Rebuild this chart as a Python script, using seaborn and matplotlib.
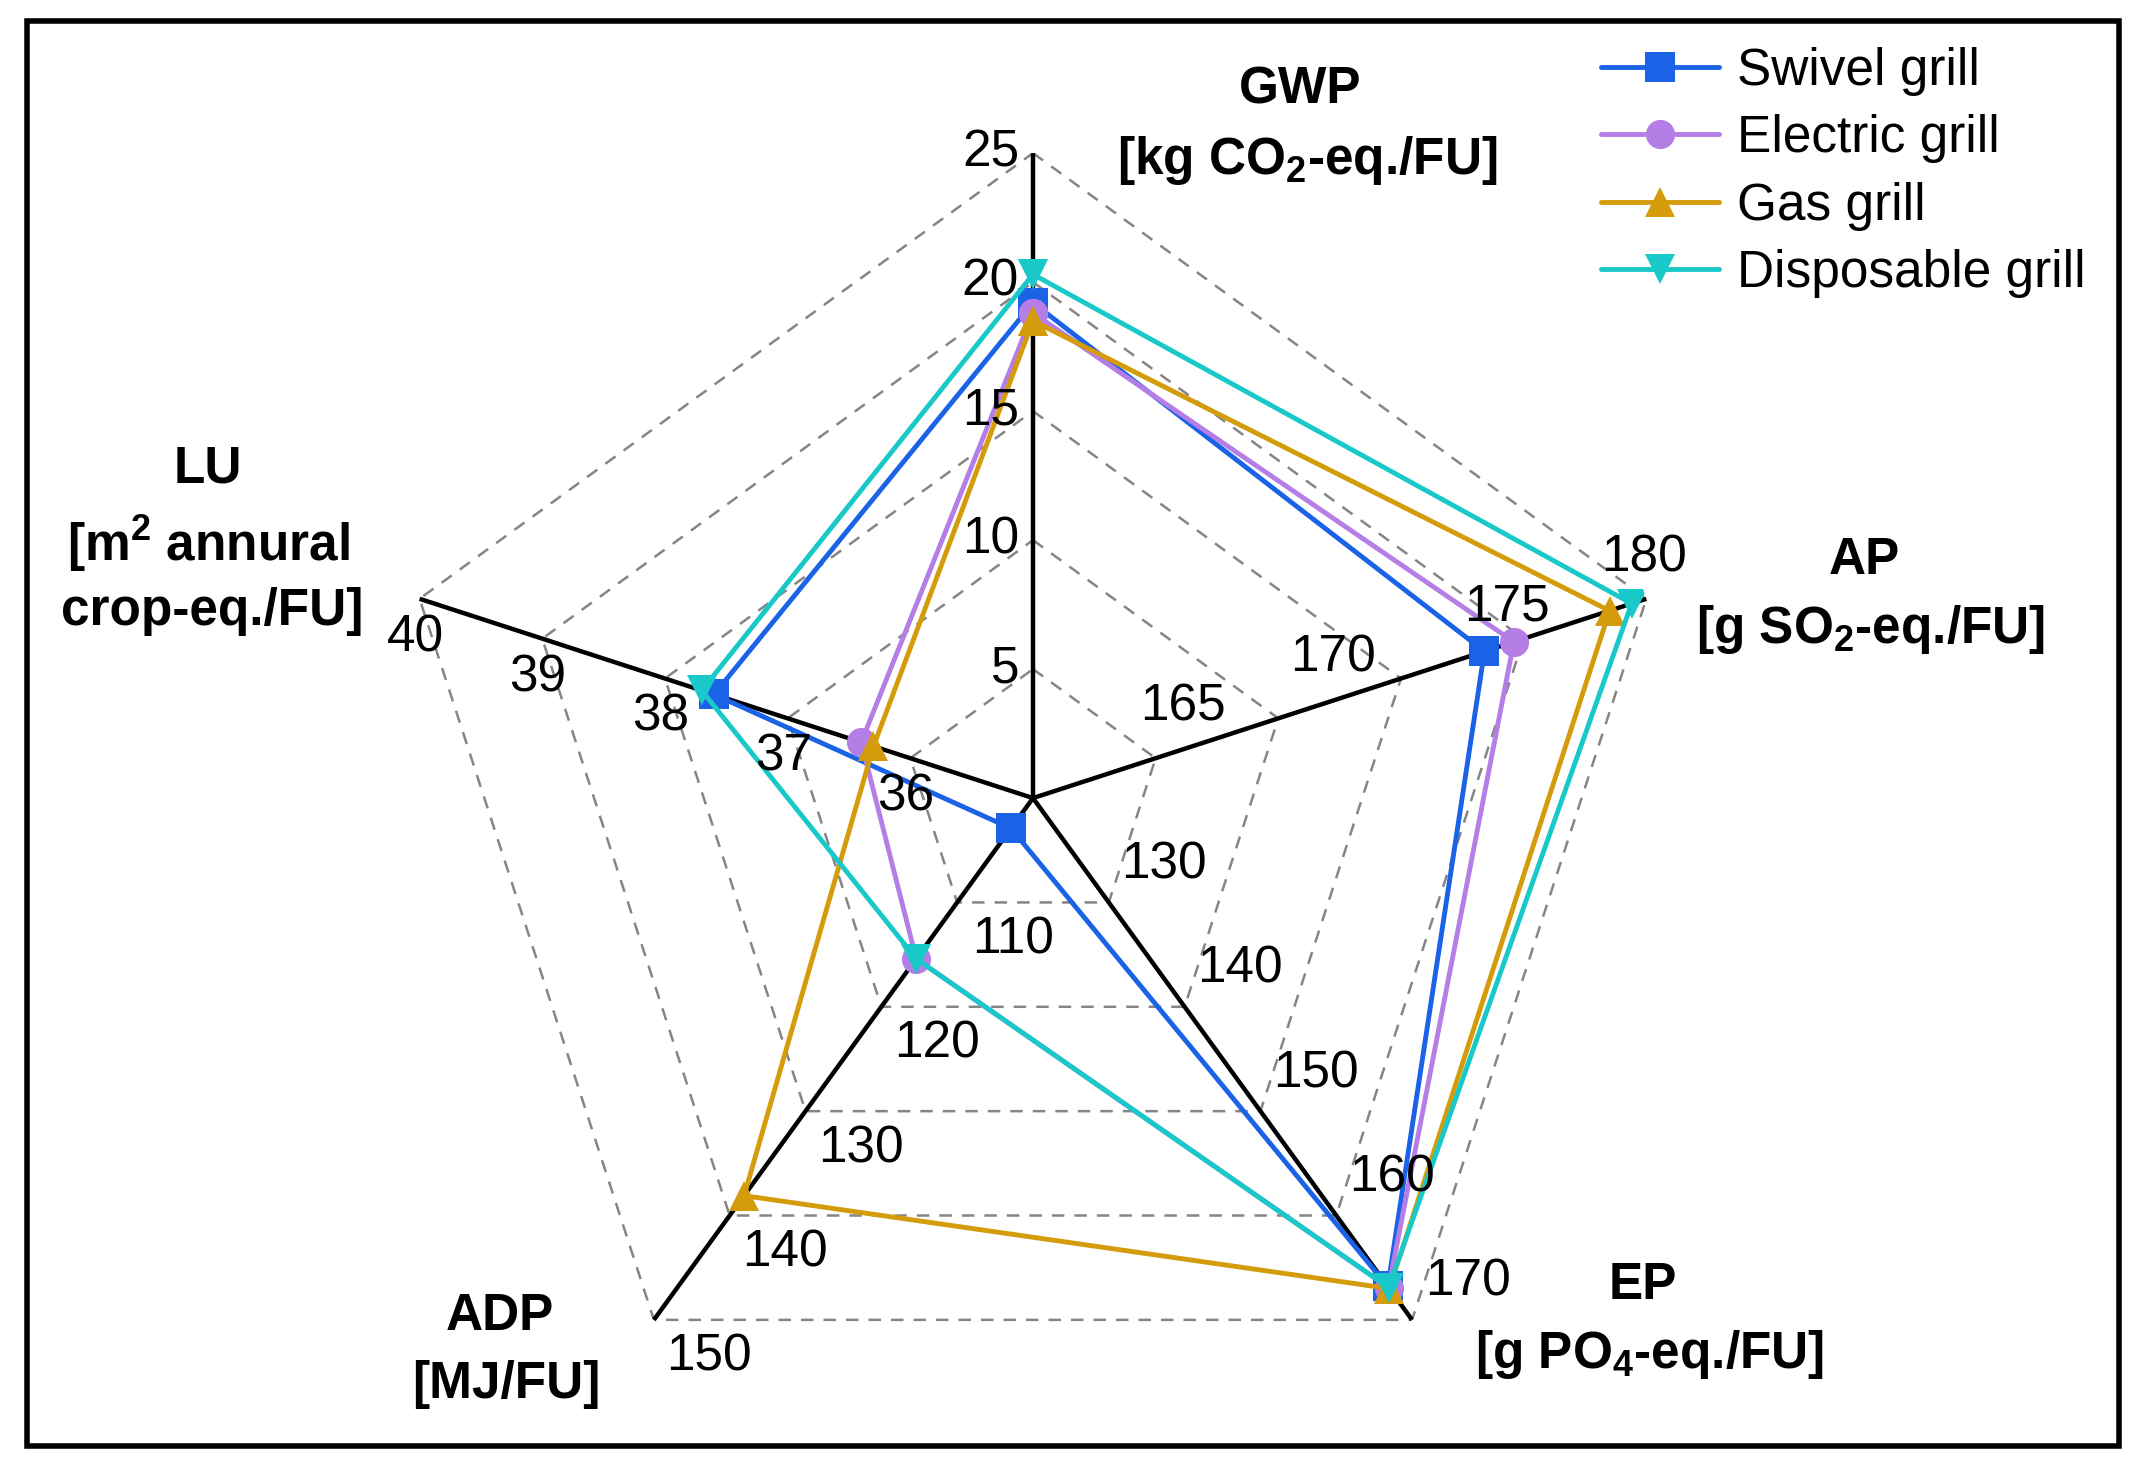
import numpy as np
import pandas as pd
import seaborn as sns
import matplotlib.pyplot as plt
from matplotlib.patches import Rectangle

# axes of the radar, clockwise from the top
indicators = ["GWP", "AP", "EP", "ADP", "LU"]
axis_min = [0, 155, 120, 100, 35]
axis_max = [25, 180, 170, 150, 40]
tick_values = [
    [5, 10, 15, 20, 25],
    [165, 170, 175, 180],
    [130, 140, 150, 160, 170],
    [110, 120, 130, 140, 150],
    [36, 37, 38, 39, 40],
]

grills = ["Swivel grill", "Electric grill", "Gas grill", "Disposable grill"]
swivel = [19.2, 173.4, 166.8, 102.9, 37.6]
electric = [18.8, 174.6, 166.9, 115.4, 36.4]
gas = [18.5, 178.5, 167.0, 138.1, 36.3]
disposable = [20.3, 179.4, 166.9, 115.4, 37.7]

colors = ["#1a62e6", "#b57ee6", "#d49b0a", "#19c8c8"]
markers = ["s", "o", "^", "v"]

sns.set_style("white")
plt.rcParams["font.family"] = ["Liberation Sans", "DejaVu Sans"]
plt.rcParams["text.color"] = "black"
plt.rcParams["mathtext.fontset"] = "custom"
plt.rcParams["mathtext.rm"] = "Liberation Sans:bold"
plt.rcParams["mathtext.it"] = "Liberation Sans:bold"
plt.rcParams["mathtext.bf"] = "Liberation Sans:bold"

FS = 37
n_ax = len(indicators)
angles = np.linspace(0, 2 * np.pi, n_ax, endpoint=False)

# long-form table, polygon closed by repeating the first axis
rows = []
for name, vals in zip(grills, [swivel, electric, gas, disposable]):
    for i in range(n_ax + 1):
        k = i % n_ax
        r = (vals[k] - axis_min[k]) / (axis_max[k] - axis_min[k])
        rows.append({"grill": name, "theta": 2 * np.pi * i / n_ax, "r": r})
df = pd.DataFrame(rows)

fig = plt.figure(figsize=(21.46, 14.68), dpi=100)
ax = fig.add_axes([0.1808, 0.0170, 0.6011, 0.8787], projection="polar")
ax.set_theta_zero_location("N")
ax.set_theta_direction(-1)
ax.set_ylim(0, 1)
ax.grid(False)
ax.set_xticks([])
ax.set_yticks([])
ax.spines["polar"].set_visible(False)
ax.patch.set_alpha(0)

# dashed pentagon rings
ring_theta = np.append(angles, angles[0])
for lev in [0.2, 0.4, 0.6, 0.8, 1.0]:
    ax.plot(ring_theta, [lev] * len(ring_theta), color="#858585", lw=1.8,
            linestyle=(0, (5, 4)), zorder=1)

# spokes
for t in angles:
    ax.plot([t, t], [0, 1], color="black", lw=3.2, zorder=2)

sns.lineplot(
    data=df, x="theta", y="r", hue="grill", style="grill",
    palette=dict(zip(grills, colors)), markers=dict(zip(grills, markers)),
    dashes=False, sort=False, estimator=None, lw=3.5, markersize=21,
    markeredgewidth=0, ax=ax, zorder=3,
)
ax.set_xlabel("")
ax.set_ylabel("")

# tick labels along every axis (offsets in points)
tick_offsets = [
    [(-10, 0)] * 5,
    [(-69, 8), (-49, 15), (-12, 23), (-2, 29)],
    [(40, 27)] * 5,
    [(40, -27)] * 5,
    [(-3, -28)] * 5,
]
for k in range(n_ax):
    for v, off in zip(tick_values[k], tick_offsets[k]):
        r = (v - axis_min[k]) / (axis_max[k] - axis_min[k])
        ha = "right" if k == 0 else "center"
        ax.annotate(str(v), (angles[k], r), xytext=off, textcoords="offset points",
                    ha=ha, va="center", fontsize=FS, annotation_clip=False, zorder=4)

# axis titles
titles = [
    [("GWP", 0.606, 0.9385), ("[kg CO$_2$-eq./FU]", 0.609, 0.891)],
    [("AP", 0.8686, 0.6179), ("[g SO$_2$-eq./FU]", 0.8718, 0.5713)],
    [("EP", 0.7653, 0.1240), ("[g PO$_4$-eq./FU]", 0.7685, 0.0774)],
    [("ADP", 0.2328, 0.1034), ("[MJ/FU]", 0.236, 0.0569)],
    [("LU", 0.0969, 0.6803), ("[m$^2$ annural", 0.0969, 0.6300),
     ("crop-eq./FU]", 0.0989, 0.5834)],
]
for lines in titles:
    for s, x, y in lines:
        fig.text(x, y, s, ha="center", va="center", fontsize=FS, fontweight="bold")

sns.move_legend(
    ax, "upper left", bbox_to_anchor=(0.746, 0.968), bbox_transform=fig.transFigure,
    title=None, frameon=False, fontsize=FS, handlelength=2.3, handletextpad=0.35,
    labelspacing=0.36, borderpad=0, borderaxespad=0,
)
for h in ax.get_legend().legend_handles:
    h.set_markersize(21)
    h.set_linewidth(3.5)
    h.set_markeredgewidth(0)

fig.add_artist(Rectangle((0.0128, 0.0149), 0.9745, 0.9711, transform=fig.transFigure,
                         fill=False, edgecolor="black", lw=4))

fig.savefig("out.png", dpi=100)
